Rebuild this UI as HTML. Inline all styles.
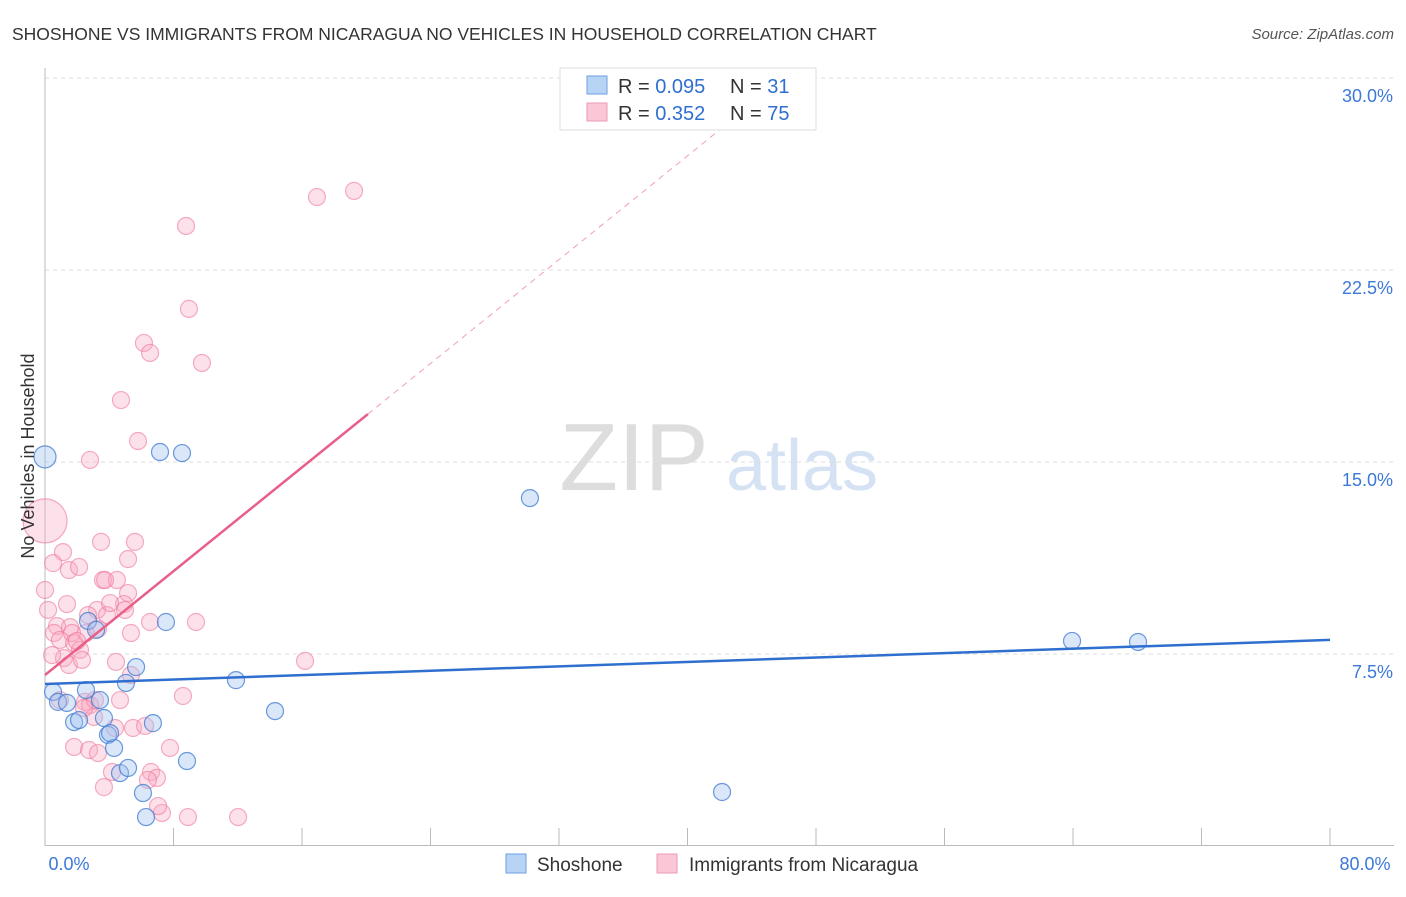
<!DOCTYPE html>
<html><head><meta charset="utf-8"><style>
body{margin:0;background:#fff;font-family:"Liberation Sans",sans-serif}
svg text{font-family:"Liberation Sans",sans-serif}
</style></head><body>
<svg id="chart" width="1406" height="892" viewBox="0 0 1406 892">
<text x="12" y="40" font-size="17.5" fill="#333">SHOSHONE VS IMMIGRANTS FROM NICARAGUA NO VEHICLES IN HOUSEHOLD CORRELATION CHART</text>
<text x="1394" y="39" font-size="15" fill="#555" font-style="italic" text-anchor="end">Source: ZipAtlas.com</text>
<g>
<text x="634" y="490" font-size="96" fill="#ddd" font-family="Liberation Serif" text-anchor="middle">ZIP</text>
<text x="802" y="490" font-size="72" fill="#d4e2f4" text-anchor="middle">atlas</text>
</g>
<g id="grid"></g>
<g id="axes"></g>
<g id="pts"></g>
<g id="lines"></g>
<text transform="translate(34,456) rotate(-90)" font-size="18" fill="#333" text-anchor="middle">No Vehicles in Household</text>
<g>
<rect x="560" y="68" width="256" height="62" fill="#fff" stroke="#ddd"/>
<rect x="587" y="76" width="20" height="18" fill="#b8d4f5" stroke="#6d9fe0"/>
<text x="618" y="93" font-size="20" fill="#333">R = <tspan fill="#2f6fd0">0.095</tspan></text>
<text x="730" y="93" font-size="20" fill="#333">N = <tspan fill="#2f6fd0"> 31</tspan></text>
<rect x="587" y="103" width="20" height="18" fill="#f9c7d5" stroke="#ee9ab4"/>
<text x="618" y="120" font-size="20" fill="#333">R = <tspan fill="#2f6fd0"> 0.352</tspan></text>
<text x="730" y="120" font-size="20" fill="#333">N = <tspan fill="#2f6fd0">75</tspan></text>
</g>
<g>
<rect x="506" y="854" width="20" height="19" fill="#b8d4f5" stroke="#6d9fe0"/>
<text x="537" y="871" font-size="19" fill="#333">Shoshone</text>
<rect x="657" y="854" width="20" height="19" fill="#f9c7d5" stroke="#ee9ab4"/>
<text x="689" y="871" font-size="19" fill="#333">Immigrants from Nicaragua</text>
</g>
</svg>
<script>
const yTicks=[7.5,15,22.5,30];
const yTickLabels=["7.5%","15.0%","22.5%","30.0%"];
const xTickLabels=["0.0%","80.0%"];
const bluePx=[[45,457],[160,452],[182,453],[530,498],[1072,641],[1138,642],[722,792],[53,692],[58,702],[67,703],[74,722],[79,720],[86,690],[100,700],[88,621],[96,630],[104,718],[108,735],[114,748],[120,773],[128,768],[126,683],[136,667],[166,622],[236,680],[275,711],[153,723],[187,761],[143,793],[146,817],[110,733]];
const pinkPx=[[45,590],[186,226],[317,197],[354,191],[189,309],[144,343],[150,353],[202,363],[121,400],[138,441],[90,460],[128,559],[101,542],[135,542],[63,552],[53,563],[69,570],[79,567],[103,580],[117,580],[105,580],[128,593],[48,610],[67,604],[124,604],[97,610],[107,615],[57,626],[70,627],[86,633],[98,629],[131,633],[150,622],[196,622],[54,633],[60,640],[74,643],[80,650],[64,658],[69,665],[82,660],[52,655],[116,662],[305,661],[131,675],[183,696],[85,702],[90,705],[94,717],[120,700],[133,728],[145,726],[115,728],[74,747],[89,750],[98,753],[170,748],[112,772],[104,787],[151,772],[157,778],[148,780],[188,817],[238,817],[162,813],[158,806],[110,603],[88,615],[72,633],[95,700],[84,708],[60,700],[77,641],[125,610]];
// convert read pixel positions to data values
const blueX=bluePx.map(p=>+((p[0]-45)/16.0625).toFixed(2));
const blueY=bluePx.map(p=>+((846-p[1])/25.6).toFixed(2));
const pinkX=pinkPx.map(p=>+((p[0]-45)/16.0625).toFixed(2));
const pinkY=pinkPx.map(p=>+((846-p[1])/25.6).toFixed(2));
const bigPinkX=[0],bigPinkY=[12.7];
const blueTrend=[6.33,8.05];
const pinkTrend=[6.68,0.507];
const X=v=>45+v*16.0625, Y=v=>846-v*25.6;
const NS="http://www.w3.org/2000/svg";
function mk(t,a,parent){const e=document.createElementNS(NS,t);for(const k in a)e.setAttribute(k,a[k]);document.getElementById(parent).appendChild(e);return e;}
yTicks.forEach((v,i)=>{
 const l=mk('line',{x1:45,x2:1394,y1:Y(v),y2:Y(v),stroke:'#ddd','stroke-dasharray':'4,4'},'grid');
 
 
 const t=mk('text',{x:1393,y:Y(v)+24,'font-size':18,fill:'#3c78d8','text-anchor':'end'},'grid');
 t.textContent=yTickLabels[i];
 
 
});
let a=mk('line',{x1:45,x2:45,y1:68,y2:846,stroke:'#bbb'},'axes');


a=mk('line',{x1:45,x2:1394,y1:845.5,y2:845.5,stroke:'#bbb'},'axes');


for(let v=0;v<=80;v+=8){const t=mk('line',{x1:X(v),x2:X(v),y1:828,y2:846,stroke:'#bbb'},'axes');
 
 }
[[0,69,'start'],[80,1393,'end']].forEach((d,i)=>{const t=mk('text',{x:d[1]-i*0,y:870,'font-size':18,fill:'#3c78d8','text-anchor':'middle'},'axes');
 t.setAttribute('x',i?1365:69);
 t.textContent=xTickLabels[i];
 
 });
function dot(x,y,r,fill,stroke,name){const c=mk('circle',{cx:X(x),cy:Y(y),r:r,fill:fill,stroke:stroke,'stroke-width':1.2},'pts');
 
 }
pinkX.forEach((x,i)=>dot(x,pinkY[i],8.5,'rgba(248,170,195,0.35)','rgba(236,120,155,0.6)','nicaragua-point'));
bigPinkX.forEach((x,i)=>dot(x,bigPinkY[i],22,'rgba(248,170,195,0.35)','rgba(236,120,155,0.6)','nicaragua-point'));
blueX.forEach((x,i)=>dot(x,blueY[i],i==0?11:8.5,'rgba(160,195,240,0.4)','rgba(60,120,210,0.75)','shoshone-point'));
let L=mk('line',{x1:X(0),y1:Y(blueTrend[0]),x2:X(80),y2:Y(blueTrend[1]),stroke:'#2f6fd0','stroke-width':2.5},'lines');


const pe=(30-pinkTrend[0])/pinkTrend[1];
L=mk('line',{x1:X(20.1),y1:Y(pinkTrend[0]+pinkTrend[1]*20.1),x2:X(pe),y2:Y(30),stroke:'#f0a0b8','stroke-width':1,'stroke-dasharray':'6,5'},'lines');


L=mk('line',{x1:X(0),y1:Y(pinkTrend[0]),x2:X(20.1),y2:Y(pinkTrend[0]+pinkTrend[1]*20.1),stroke:'#e8608a','stroke-width':2.5},'lines');


</script>
</body></html>
